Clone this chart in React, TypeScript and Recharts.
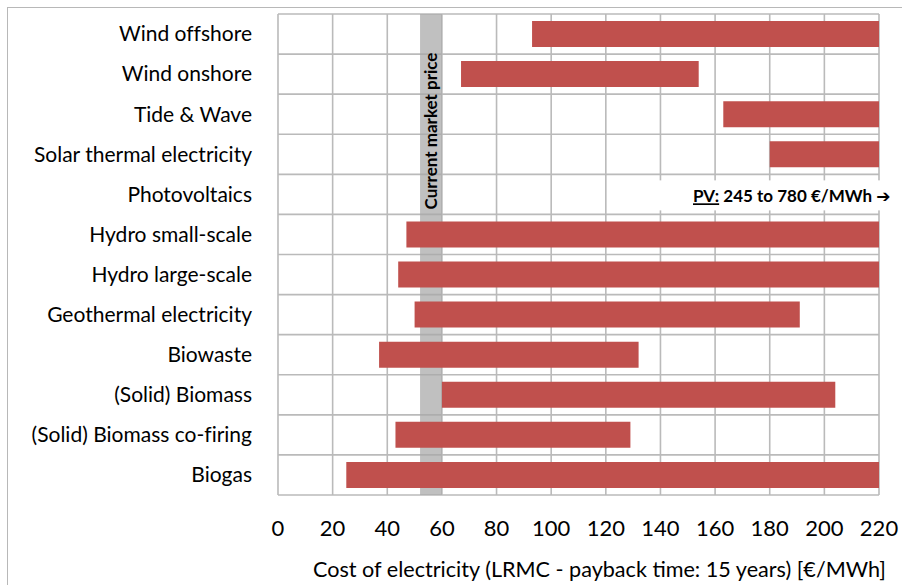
import React from "react";
import {
  ComposedChart,
  Bar,
  XAxis,
  YAxis,
  CartesianGrid,
  ReferenceArea,
  ReferenceDot,
} from "recharts";

const categories = [
  "Wind offshore",
  "Wind onshore",
  "Tide & Wave",
  "Solar thermal electricity",
  "Photovoltaics",
  "Hydro small-scale",
  "Hydro large-scale",
  "Geothermal electricity",
  "Biowaste",
  "(Solid) Biomass",
  "(Solid) Biomass co-firing ",
  "Biogas",
];
const costLow: (number | null)[] = [93, 67, 163, 180, null, 47, 44, 50, 37, 60, 43, 25];
const costHigh: (number | null)[] = [220, 154, 220, 220, null, 220, 220, 191, 132, 204, 129, 220];
const xTicks = [0, 20, 40, 60, 80, 100, 120, 140, 160, 180, 200, 220];
const marketPrice = [52, 60];
const pvRange = [245, 780];
const pvCategory = "Photovoltaics";

const data = categories.map((name, i) => ({
  name,
  range: costLow[i] == null ? null : [costLow[i], costHigh[i]],
}));

const FONT = "Lato, 'Open Sans', sans-serif";
const BAR = "#c0504d";
const GRID = "#bababa";
const NOLIG = { fontVariantLigatures: "none" as const };

const XTick = (props: any) => {
  const { x, y, payload } = props;
  return (
    <text x={x} y={y + 33} dy="0.35em" textAnchor="middle" fontFamily={FONT} fontSize={22} fill="#000">
      {payload.value}
    </text>
  );
};

const YTick = (props: any) => {
  const { x, y, payload } = props;
  return (
    <text x={x - 26} y={y} dy="0.35em" textAnchor="end" fontFamily={FONT} fontSize={21} fill="#000" style={NOLIG}>
      {payload.value}
    </text>
  );
};

const XTitle = (props: any) => {
  const vb = props.viewBox || {};
  return (
    <text
      x={vb.x + vb.width / 2 + 21}
      y={vb.y + 74}
      dy="0.35em"
      textAnchor="middle"
      fontFamily={FONT}
      fontSize={21.6}
      fill="#000"
    >
      Cost of electricity (LRMC - payback time: 15 years) [€/MWh]
    </text>
  );
};

const BandLabel = (props: any) => {
  const vb = props.viewBox || {};
  const cx = vb.x + vb.width / 2;
  const cy = vb.y + 117;
  return (
    <text
      x={cx}
      y={cy}
      dy="0.35em"
      textAnchor="middle"
      transform={`rotate(-90 ${cx} ${cy})`}
      fontFamily={FONT}
      fontWeight="bold"
      fontSize={17}
      fill="#000"
    >
      Current market price
    </text>
  );
};

const PVNote = (props: any) => {
  const { cx, cy } = props;
  return (
    <g>
      <rect x={cx - 250} y={cy - 14} width={266} height={30} fill="#ffffff" />
      <text x={cx - 186} y={cy + 2} dy="0.35em" fontFamily={FONT} fontWeight="bold" fontSize={17} fill="#000">
        <tspan textDecoration="underline">PV:</tspan>
        <tspan> {pvRange[0]} to {pvRange[1]} €/MWh </tspan>
        <tspan fontFamily="DejaVu Sans">➔</tspan>
      </text>
    </g>
  );
};

export default function App() {
  return (
    <div
      style={{
        position: "fixed",
        left: 7,
        top: 7,
        width: 900,
        height: 578,
        borderTop: "1px solid #b8b8b8",
        borderLeft: "1px solid #b8b8b8",
        background: "#fff",
      }}
    >
      <style>{`html,body{overflow:hidden}`}</style>
      <ComposedChart
        width={900}
        height={577}
        data={data}
        layout="vertical"
        margin={{ top: 6, right: 29, bottom: 0, left: 0 }}
      >
        <CartesianGrid
          stroke={GRID}
          strokeWidth={1.6}
          horizontalCoordinatesGenerator={(p: any) => {
            const off = p.offset;
            return categories
              .map((_, i) => off.top + (i * off.height) / categories.length)
              .concat([off.top + off.height]);
          }}
        />
        <XAxis
          type="number"
          domain={[0, 220]}
          ticks={xTicks}
          interval={0}
          axisLine={false}
          tickLine={false}
          tickSize={0}
          tickMargin={0}
          height={90}
          tick={<XTick />}
          label={<XTitle />}
        />
        <YAxis
          type="category"
          dataKey="name"
          width={270}
          axisLine={false}
          tickLine={false}
          tickSize={0}
          tickMargin={0}
          interval={0}
          tick={<YTick />}
        />
        <Bar dataKey="range" fill={BAR} barSize={26} isAnimationActive={false} />
        <ReferenceArea
          x1={marketPrice[0]}
          x2={marketPrice[1]}
          fill="#a8a8a8"
          fillOpacity={0.72}
          stroke="none"
          label={<BandLabel />}
        />
        <ReferenceDot x={220} y={pvCategory} r={0} shape={<PVNote />} />
      </ComposedChart>
    </div>
  );
}
